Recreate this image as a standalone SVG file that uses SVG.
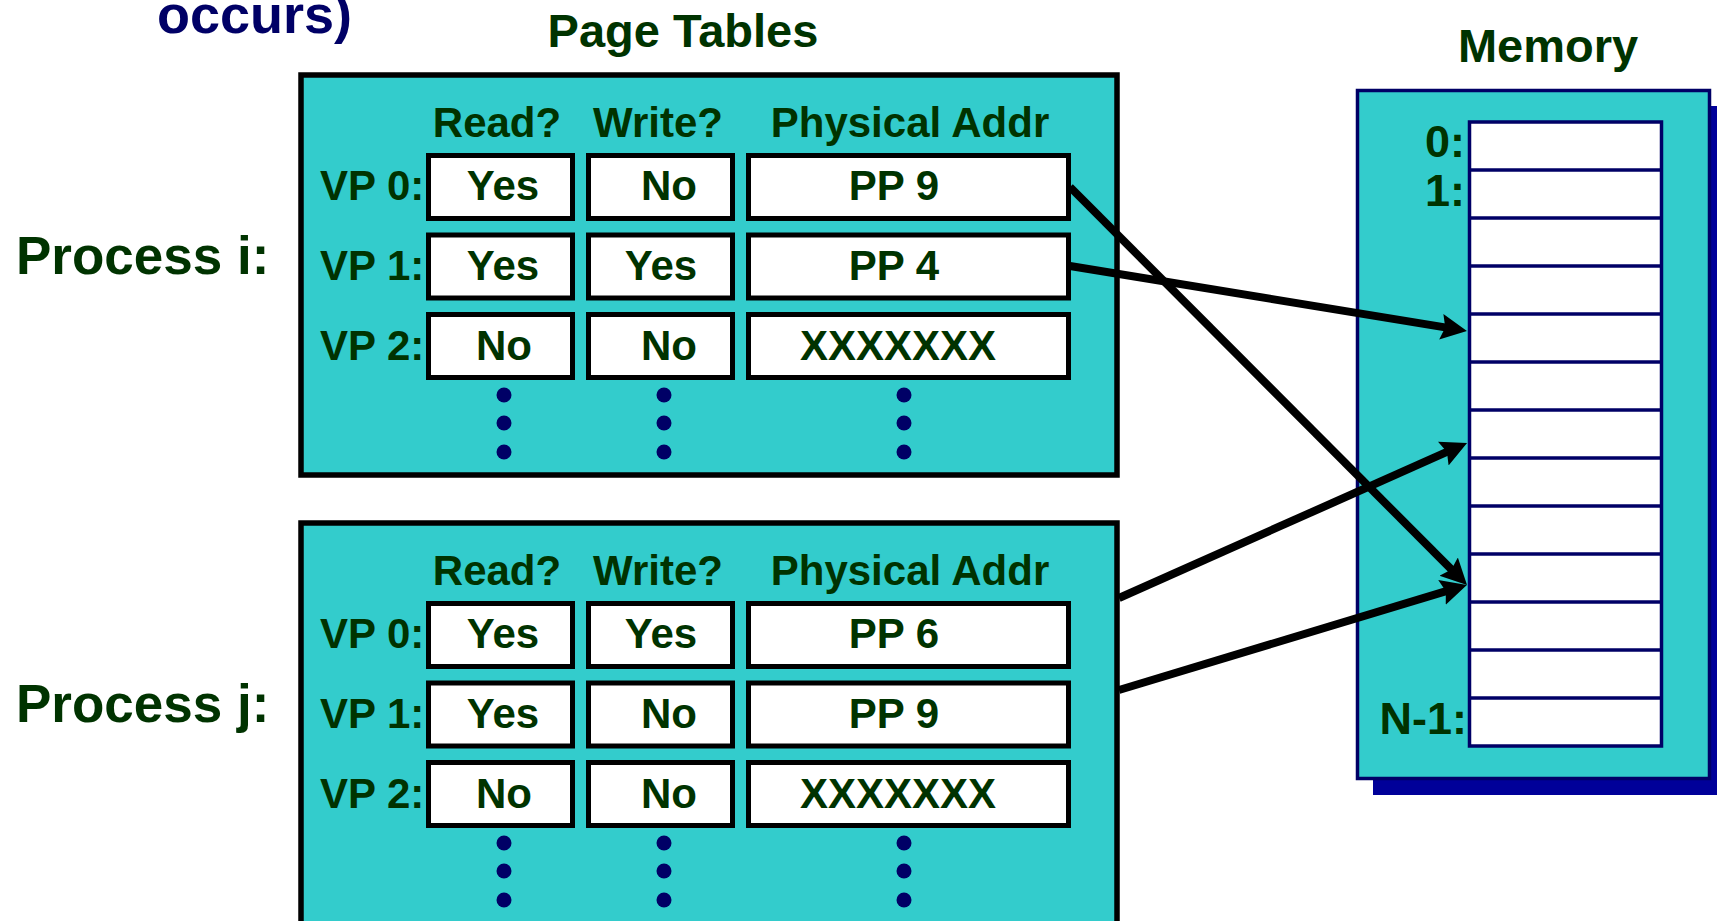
<svg xmlns="http://www.w3.org/2000/svg" width="1717" height="921" viewBox="0 0 1717 921">
<style>
text{font-family:"Liberation Sans",Arial,sans-serif;font-weight:bold;fill:#003300}
.h{font-size:47px;text-anchor:middle}
.proc{font-size:53px}
.col{font-size:42px;text-anchor:middle}
.lab{font-size:42px}
.cv{font-size:42px;text-anchor:middle}
.ml{font-size:45px;text-anchor:end}
.box{fill:#33CCCC;stroke:#000;stroke-width:5.5}
.cell{fill:#fff;stroke:#000;stroke-width:5}
.dot{fill:#000066}
</style>
<defs>
<marker id="ah" markerUnits="userSpaceOnUse" markerWidth="27" markerHeight="28" viewBox="0 0 27 28" refX="7" refY="14" orient="auto">
<path d="M0,1 L26,14 L0,27 L4,14 Z" fill="#000"/>
</marker>
</defs>
<rect width="1717" height="921" fill="#fff"/>
<text id="occurs" x="157" y="33" style="font-size:54px;fill:#000066">occurs)</text>
<text id="title-pt" class="h" x="683" y="47">Page Tables</text>
<text id="title-mem" class="h" x="1548" y="62">Memory</text>

<g id="process-i">
<text class="proc" x="16" y="274">Process i:</text>
<rect class="box" x="301" y="75" width="816" height="400"/>
<text class="col" x="497" y="137">Read?</text>
<text class="col" x="658" y="137">Write?</text>
<text class="col" x="910" y="137">Physical Addr</text>
<g id="pi-vp0">
<text class="lab" x="320" y="200">VP 0:</text>
<rect class="cell" x="428.5" y="155.5" width="144" height="63"/>
<rect class="cell" x="588.5" y="155.5" width="144" height="63"/>
<rect class="cell" x="748.5" y="155.5" width="320" height="63"/>
<text class="cv" x="503" y="200">Yes</text>
<text class="cv" x="669" y="200">No</text>
<text class="cv" x="894" y="200">PP 9</text>
</g>
<g id="pi-vp1">
<text class="lab" x="320" y="280">VP 1:</text>
<rect class="cell" x="428.5" y="235" width="144" height="63"/>
<rect class="cell" x="588.5" y="235" width="144" height="63"/>
<rect class="cell" x="748.5" y="235" width="320" height="63"/>
<text class="cv" x="503" y="280">Yes</text>
<text class="cv" x="661" y="280">Yes</text>
<text class="cv" x="894" y="280">PP 4</text>
</g>
<g id="pi-vp2">
<text class="lab" x="320" y="360">VP 2:</text>
<rect class="cell" x="428.5" y="314.5" width="144" height="63"/>
<rect class="cell" x="588.5" y="314.5" width="144" height="63"/>
<rect class="cell" x="748.5" y="314.5" width="320" height="63"/>
<text class="cv" x="504" y="360">No</text>
<text class="cv" x="669" y="360">No</text>
<text class="cv" x="898" y="360">XXXXXXX</text>
</g>
<circle class="dot" cx="504" cy="395" r="7.5"/><circle class="dot" cx="504" cy="423" r="7.5"/><circle class="dot" cx="504" cy="452" r="7.5"/>
<circle class="dot" cx="664" cy="395" r="7.5"/><circle class="dot" cx="664" cy="423" r="7.5"/><circle class="dot" cx="664" cy="452" r="7.5"/>
<circle class="dot" cx="904" cy="395" r="7.5"/><circle class="dot" cx="904" cy="423" r="7.5"/><circle class="dot" cx="904" cy="452" r="7.5"/>
</g>

<g id="process-j">
<text class="proc" x="16" y="722">Process j:</text>
<rect class="box" x="301" y="523" width="816" height="420"/>
<text class="col" x="497" y="585">Read?</text>
<text class="col" x="658" y="585">Write?</text>
<text class="col" x="910" y="585">Physical Addr</text>
<g id="pj-vp0">
<text class="lab" x="320" y="648">VP 0:</text>
<rect class="cell" x="428.5" y="603.5" width="144" height="63"/>
<rect class="cell" x="588.5" y="603.5" width="144" height="63"/>
<rect class="cell" x="748.5" y="603.5" width="320" height="63"/>
<text class="cv" x="503" y="648">Yes</text>
<text class="cv" x="661" y="648">Yes</text>
<text class="cv" x="894" y="648">PP 6</text>
</g>
<g id="pj-vp1">
<text class="lab" x="320" y="728">VP 1:</text>
<rect class="cell" x="428.5" y="683" width="144" height="63"/>
<rect class="cell" x="588.5" y="683" width="144" height="63"/>
<rect class="cell" x="748.5" y="683" width="320" height="63"/>
<text class="cv" x="503" y="728">Yes</text>
<text class="cv" x="669" y="728">No</text>
<text class="cv" x="894" y="728">PP 9</text>
</g>
<g id="pj-vp2">
<text class="lab" x="320" y="808">VP 2:</text>
<rect class="cell" x="428.5" y="762.5" width="144" height="63"/>
<rect class="cell" x="588.5" y="762.5" width="144" height="63"/>
<rect class="cell" x="748.5" y="762.5" width="320" height="63"/>
<text class="cv" x="504" y="808">No</text>
<text class="cv" x="669" y="808">No</text>
<text class="cv" x="898" y="808">XXXXXXX</text>
</g>
<circle class="dot" cx="504" cy="843" r="7.5"/><circle class="dot" cx="504" cy="871" r="7.5"/><circle class="dot" cx="504" cy="900" r="7.5"/>
<circle class="dot" cx="664" cy="843" r="7.5"/><circle class="dot" cx="664" cy="871" r="7.5"/><circle class="dot" cx="664" cy="900" r="7.5"/>
<circle class="dot" cx="904" cy="843" r="7.5"/><circle class="dot" cx="904" cy="871" r="7.5"/><circle class="dot" cx="904" cy="900" r="7.5"/>
</g>

<g id="memory">
<rect x="1373" y="106" width="360" height="689" fill="#000099"/>
<rect x="1357.5" y="90.5" width="352" height="688" fill="#33CCCC" stroke="#000066" stroke-width="3.5"/>
<rect x="1469.5" y="122" width="192" height="624" fill="#fff" stroke="#000066" stroke-width="3.5"/>
<g stroke="#000066" stroke-width="3.5">
<line x1="1469.5" y1="170" x2="1661.5" y2="170"/>
<line x1="1469.5" y1="218" x2="1661.5" y2="218"/>
<line x1="1469.5" y1="266" x2="1661.5" y2="266"/>
<line x1="1469.5" y1="314" x2="1661.5" y2="314"/>
<line x1="1469.5" y1="362" x2="1661.5" y2="362"/>
<line x1="1469.5" y1="410" x2="1661.5" y2="410"/>
<line x1="1469.5" y1="458" x2="1661.5" y2="458"/>
<line x1="1469.5" y1="506" x2="1661.5" y2="506"/>
<line x1="1469.5" y1="554" x2="1661.5" y2="554"/>
<line x1="1469.5" y1="602" x2="1661.5" y2="602"/>
<line x1="1469.5" y1="650" x2="1661.5" y2="650"/>
<line x1="1469.5" y1="698" x2="1661.5" y2="698"/>
</g>
<text class="ml" x="1465" y="157">0:</text>
<text class="ml" x="1465" y="206">1:</text>
<text class="ml" x="1467" y="734">N-1:</text>
</g>

<g id="connectors" stroke="#000" stroke-width="8" fill="none" marker-end="url(#ah)">
<path d="M1070,187 L1453.6,571.6"/>
<path d="M1070,266 L1448.2,327.9"/>
<path d="M1119,598 L1449.7,450.7"/>
<path d="M1119,690 L1448.7,590.4"/>
</g>
</svg>
